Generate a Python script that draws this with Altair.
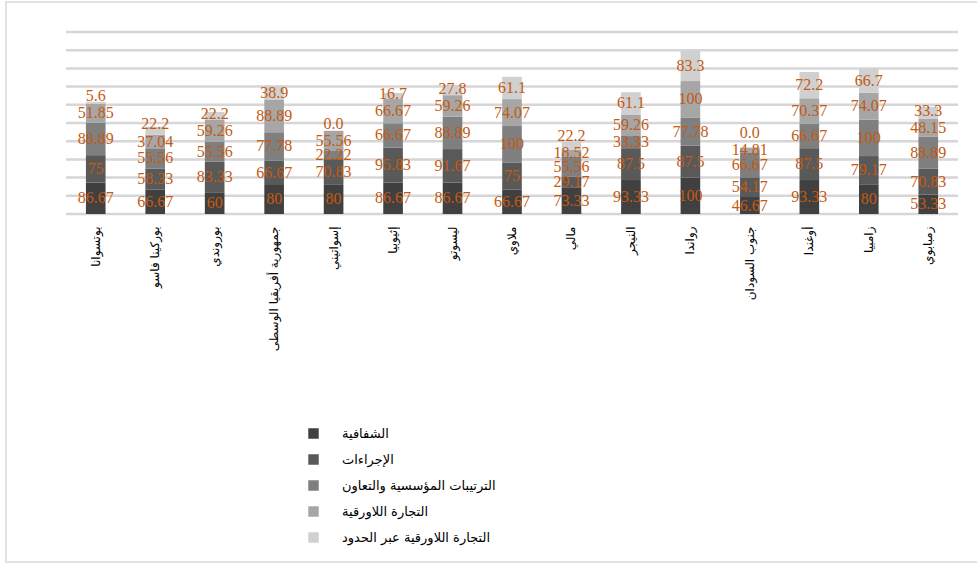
import altair as alt
import pandas as pd

countries = ["بوتسوانا", "بوركينا فاسو", "بوروندي", "جمهورية أفريقيا الوسطى", "إسواتيني",
             "إثيوبيا", "ليسوتو", "ملاوي", "مالي", "النيجر", "رواندا", "جنوب السودان",
             "أوغندا", "زامبيا", "زمبابوي"]

series_names = ["الشفافية", "الإجراءات", "الترتيبات المؤسسية والتعاون",
                "التجارة اللاورقية", "التجارة اللاورقية عبر الحدود"]

transparency = [86.67, 66.67, 60, 80, 80, 86.67, 86.67, 66.67, 73.33, 93.33, 100, 46.67, 93.33, 80, 53.33]
procedures = [75, 58.33, 83.33, 66.67, 70.83, 95.83, 91.67, 75, 29.17, 87.5, 87.5, 54.17, 87.5, 79.17, 70.83]
institutional = [88.89, 55.56, 55.56, 77.78, 22.22, 66.67, 88.89, 100, 55.56, 33.33, 77.78, 66.67, 66.67, 100, 88.89]
paperless = [51.85, 37.04, 59.26, 88.89, 55.56, 66.67, 59.26, 74.07, 18.52, 59.26, 100, 14.81, 70.37, 74.07, 48.15]
cross_border = [5.6, 22.2, 22.2, 38.9, 0.0, 16.7, 27.8, 61.1, 22.2, 61.1, 83.3, 0.0, 72.2, 66.7, 33.3]
grid_values = [0, 50, 100, 150, 200, 250, 300, 350, 400, 450, 500]

series_values = [transparency, procedures, institutional, paperless, cross_border]
colors = ["#404040", "#595959", "#7f7f7f", "#a6a6a6", "#d0d0d0"]

rows = []
MIN_GAP = 47  # minimum label separation for the top series (value units)
for ci, c in enumerate(countries):
    cum = 0.0
    prev_label = None
    for si, s in enumerate(series_names):
        v = series_values[si][ci]
        mid = cum + v / 2
        if si == 4 and prev_label is not None:
            mid = max(mid, prev_label + MIN_GAP)
        txt = f"{v:.1f}" if si == 4 else f"{v:g}"
        rows.append({"country": c, "series": s, "order": si, "value": v,
                     "mid": mid, "label": txt})
        prev_label = mid
        cum += v
df = pd.DataFrame(rows)
grid_df = pd.DataFrame({"g": grid_values})

yscale = alt.Scale(domain=[0, 500], nice=False)
xscale = alt.Scale(paddingInner=0.67, paddingOuter=0.335)
xaxis = alt.Axis(labelAngle=270, labelFont="DejaVu Sans", labelFontSize=12,
                 labelColor="#000000", ticks=False, domain=False, grid=False,
                 labelPadding=12, labelLimit=300)

grid = alt.Chart(grid_df).mark_rule(color="#d6d6d6", strokeWidth=2.5).encode(
    y=alt.Y("g:Q", scale=yscale, axis=None),
    x=alt.value(0), x2=alt.value(892),
)

bars = alt.Chart(df).mark_bar().encode(
    x=alt.X("country:N", sort=countries, title=None, scale=xscale, axis=xaxis),
    y=alt.Y("value:Q", stack="zero", title=None, scale=yscale, axis=None),
    color=alt.Color("series:N", sort=series_names,
                    scale=alt.Scale(domain=series_names, range=colors),
                    legend=alt.Legend(title=None, orient="none", legendX=241, legendY=395,
                                      symbolType="square", symbolSize=110,
                                      symbolStrokeWidth=0, labelFont="DejaVu Sans",
                                      labelFontSize=13, labelColor="#000000",
                                      rowPadding=12, labelOffset=22, labelLimit=300)),
    order=alt.Order("order:Q", sort="ascending"),
)

texts = alt.Chart(df).mark_text(font="Liberation Serif", fontSize=16, color="#c55a11",
                                baseline="middle", align="center").encode(
    x=alt.X("country:N", sort=countries, title=None, scale=xscale, axis=xaxis),
    y=alt.Y("mid:Q", title=None, scale=yscale, axis=None),
    text="label:N",
)

border = alt.Chart(pd.DataFrame({"a": [0]})).mark_rect(
    fillOpacity=0, stroke="#d9d9d9", strokeWidth=1.5).encode(
    x=alt.value(-60), x2=alt.value(930), y=alt.value(-30), y2=alt.value(530))

chart = alt.layer(border, grid, bars, texts).properties(
    width=892, height=182,
    autosize=alt.AutoSizeParams(type="none"),
    padding={"left": 66, "top": 32, "right": 19, "bottom": 350},
    background="white",
).configure_view(stroke=None)

chart.save("out.html", embed_options={"renderer": "svg", "actions": False})
